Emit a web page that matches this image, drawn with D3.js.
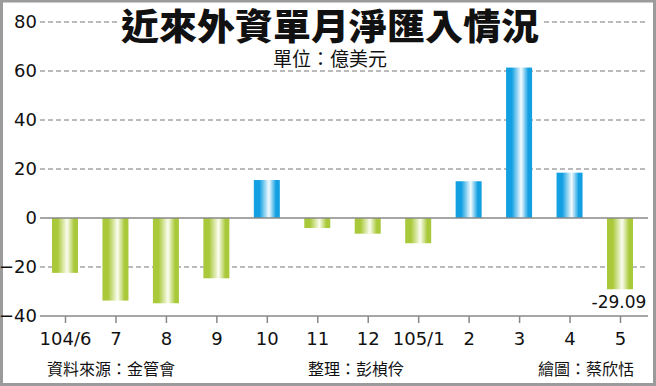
<!DOCTYPE html>
<html>
<head>
    <meta charset="UTF-8">
    <title>近來外資單月淨匯入情況</title>
    <script src="https://d3js.org/d3.v7.min.js"></script>
    <style>
        body { margin: 0; background: #fff; }
        .tick-label { font-family: "DejaVu Sans", sans-serif; font-size: 18px; fill: #111; }
        .cjk { font-family: "Noto Sans CJK TC", sans-serif; fill: #111; }
    </style>
</head>
<body>
<script>
    const months = ['104/6', '7', '8', '9', '10', '11', '12', '105/1', '2', '3', '4', '5'];
    const netInflow = [-22.4, -33.7, -34.8, -24.6, 15.5, -4.1, -6.4, -10.3, 15.0, 61.4, 18.5, -29.09];
    const yTicks = [-40, -20, 0, 20, 40, 60, 80];

    const width = 656;
    const height = 386;
    const gridLeft = 40;
    const gridRight = 648;
    const barWidth = 26;

    const svg = d3.select('body')
        .append('svg')
        .attr('width', width)
        .attr('height', height);

    // frame
    svg.append('rect')
        .attr('x', 1.5).attr('y', 1)
        .attr('width', width - 3).attr('height', height - 2.5)
        .attr('fill', '#fff')
        .attr('stroke', '#9b9b9b')
        .attr('stroke-width', 3);

    const defs = svg.append('defs');
    function grad(id, edge, mid) {
        const g = defs.append('linearGradient').attr('id', id)
            .attr('x1', '0%').attr('x2', '100%').attr('y1', '0%').attr('y2', '0%');
        g.append('stop').attr('offset', '0%').attr('stop-color', edge);
        g.append('stop').attr('offset', '22%').attr('stop-color', edge);
        g.append('stop').attr('offset', '58%').attr('stop-color', mid);
        g.append('stop').attr('offset', '85%').attr('stop-color', edge);
        g.append('stop').attr('offset', '100%').attr('stop-color', edge);
    }
    grad('blueGrad', '#12a0e2', '#f4fbff');
    grad('greenGrad', '#a9c93a', '#fbfdf0');

    const x = d3.scalePoint()
        .domain(months)
        .range([65, 620]);

    const y = d3.scaleLinear()
        .domain([-40, 80])
        .range([316, 22]);

    // grid lines
    svg.append('g')
        .selectAll('line')
        .data(yTicks.filter(d => d !== 0 && d !== -40))
        .join('line')
        .attr('x1', gridLeft).attr('x2', gridRight)
        .attr('y1', d => y(d)).attr('y2', d => y(d))
        .attr('stroke', '#777')
        .attr('stroke-width', 1)
        .attr('stroke-dasharray', '5,3');

    // y axis labels
    const yAxis = svg.append('g')
        .attr('transform', `translate(${gridLeft - 3},0)`)
        .call(d3.axisLeft(y).tickValues(yTicks).tickSize(0).tickPadding(0));
    yAxis.select('.domain').remove();
    yAxis.selectAll('text')
        .attr('class', 'tick-label')
        .attr('font-size', null)
        .attr('font-family', null);

    // bars
    svg.append('g')
        .selectAll('rect')
        .data(netInflow)
        .join('rect')
        .attr('x', (d, i) => x(months[i]) - barWidth / 2)
        .attr('y', d => y(Math.max(0, d)))
        .attr('width', barWidth)
        .attr('height', d => Math.abs(y(d) - y(0)))
        .attr('fill', d => d >= 0 ? 'url(#blueGrad)' : 'url(#greenGrad)');

    // zero line
    svg.append('line')
        .attr('x1', gridLeft).attr('x2', gridRight)
        .attr('y1', y(0)).attr('y2', y(0))
        .attr('stroke', '#888').attr('stroke-width', 1.5);

    // bottom axis
    const xAxis = svg.append('g')
        .attr('transform', `translate(0,${y(-40)})`)
        .call(d3.axisBottom(x).tickSize(7).tickPadding(9));
    xAxis.select('.domain').remove();
    xAxis.selectAll('.tick line').attr('stroke', '#888').attr('stroke-width', 1.5);
    xAxis.selectAll('text')
        .attr('class', 'tick-label')
        .attr('font-size', null)
        .attr('font-family', null);

    svg.append('line')
        .attr('x1', gridLeft).attr('x2', gridRight)
        .attr('y1', y(-40)).attr('y2', y(-40))
        .attr('stroke', '#888').attr('stroke-width', 1.5);

    // last value label
    const last = netInflow.length - 1;
    svg.append('text')
        .attr('class', 'tick-label')
        .attr('x', x(months[last]) - 1)
        .attr('y', y(netInflow[last]) + 19)
        .attr('text-anchor', 'middle')
        .style('font-size', '17px')
        .text(netInflow[last].toFixed(2));

    // titles
    svg.append('rect')
        .attr('x', 118).attr('y', 5).attr('width', 424).attr('height', 41)
        .attr('fill', '#fff');
    svg.append('text')
        .attr('class', 'cjk')
        .attr('x', 121).attr('y', 40)
        .attr('textLength', 418)
        .attr('lengthAdjust', 'spacingAndGlyphs')
        .style('font-size', '36px')
        .style('font-weight', 900)
        .text('近來外資單月淨匯入情況');

    svg.append('rect')
        .attr('x', 266).attr('y', 50).attr('width', 128).attr('height', 18)
        .attr('fill', '#fff');
    svg.append('text')
        .attr('class', 'cjk')
        .attr('x', 330).attr('y', 66)
        .attr('text-anchor', 'middle')
        .style('font-size', '19px')
        .text('單位：億美元');

    // footer
    const footer = [
        { t: '資料來源：金管會', x: 47 },
        { t: '整理：彭楨伶', x: 308 },
        { t: '繪圖：蔡欣恬', x: 538 }
    ];
    svg.append('g')
        .selectAll('text')
        .data(footer)
        .join('text')
        .attr('class', 'cjk')
        .attr('x', d => d.x).attr('y', 375)
        .style('font-size', '16px')
        .text(d => d.t);
</script>
</body>
</html>
